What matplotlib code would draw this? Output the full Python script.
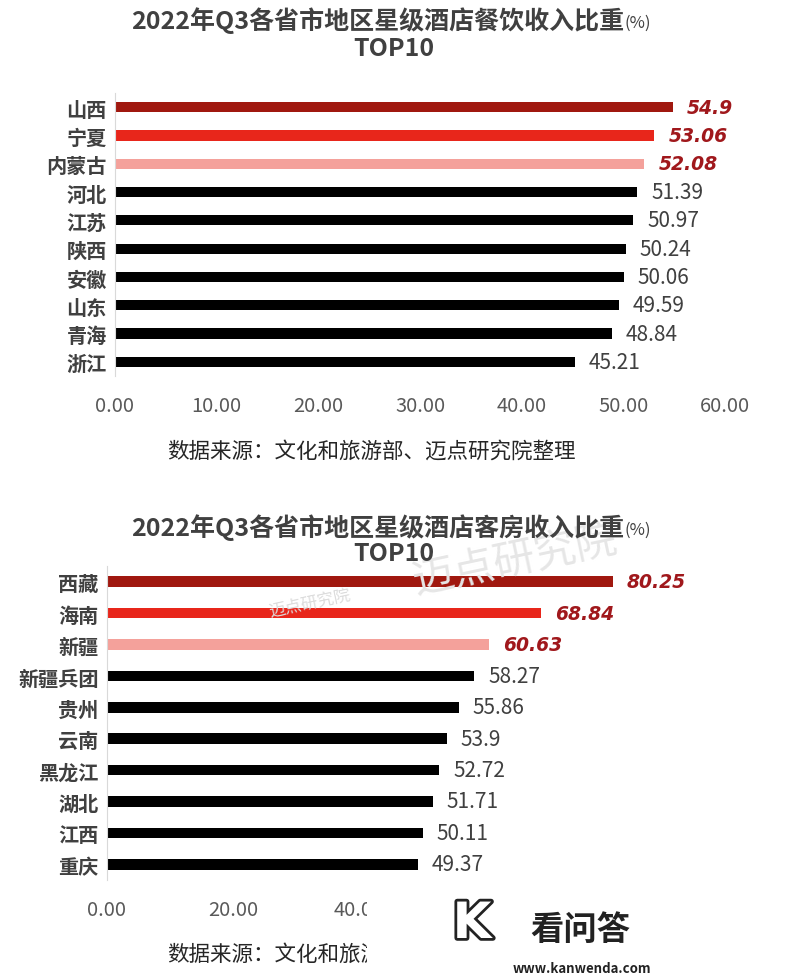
import matplotlib
matplotlib.use("Agg")
import matplotlib.pyplot as plt
import matplotlib.patheffects as pe

plt.rcParams['font.family'] = ['Noto Sans CJK SC', 'DejaVu Sans']

# data
food_names = ["山西", "宁夏", "内蒙古", "河北", "江苏", "陕西", "安徽", "山东", "青海", "浙江"]
food_values = [54.9, 53.06, 52.08, 51.39, 50.97, 50.24, 50.06, 49.59, 48.84, 45.21]
food_labels = ["54.9", "53.06", "52.08", "51.39", "50.97", "50.24", "50.06", "49.59", "48.84", "45.21"]
food_ticks = ["0.00", "10.00", "20.00", "30.00", "40.00", "50.00", "60.00"]

room_names = ["西藏", "海南", "新疆", "新疆兵团", "贵州", "云南", "黑龙江", "湖北", "江西", "重庆"]
room_values = [80.25, 68.84, 60.63, 58.27, 55.86, 53.9, 52.72, 51.71, 50.11, 49.37]
room_labels = ["80.25", "68.84", "60.63", "58.27", "55.86", "53.9", "52.72", "51.71", "50.11", "49.37"]
# labels past 40 are hidden under the logo box in the picture
room_ticks = ["0.00", "20.00", "40.00", "", "", ""]

source_full = "数据来源：文化和旅游部、迈点研究院整理"
source_cut = "数据来源：文化和旅游"  # rest is under the logo box

bar_colors = ["#a0180f", "#e8261b", "#f4a19b"] + ["#000000"] * 7
W, H = 800, 978
fig = plt.figure(figsize=(W / 100, H / 100), dpi=100)


def draw(rect, names, values, labels, ticks, xmax, step, height):
    ax = fig.add_axes(rect)
    y = list(range(len(names)))
    ax.barh(y, values, height=height, color=bar_colors)
    ax.set_ylim(len(names) - 0.5, -0.5)
    ax.set_xlim(0, xmax)
    ax.set_xticks(list(range(0, xmax + 1, step)))
    ax.set_xticklabels(ticks, fontsize=14.5, color="#595959")
    ax.set_yticks(y)
    ax.set_yticklabels(names, fontsize=14.5, fontweight="bold", color="#404040")
    ax.tick_params(length=0)
    ax.tick_params(axis="x", pad=14)
    ax.tick_params(axis="y", pad=6)
    for s in ["top", "right", "bottom"]:
        ax.spines[s].set_visible(False)
    ax.spines["left"].set_color("#d9d9d9")
    for i, (v, lab) in enumerate(zip(values, labels)):
        if i < 3:
            ax.annotate(lab, (v, i), xytext=(10, 0), textcoords="offset points",
                        va="center", ha="left", fontsize=13.5, fontweight="bold",
                        style="oblique", family="DejaVu Sans", color="#a0181c")
        else:
            ax.annotate(lab, (v, i), xytext=(10, 0), textcoords="offset points",
                        va="center", ha="left", fontsize=15, color="#404040")
    return ax


def title(y1, y2, main):
    fig.text(624 / W, 1 - y1 / H, main, ha="right", va="center",
             fontsize=18, fontweight="bold", color="#404040")
    fig.text(625 / W, 1 - (y1 + 2) / H, "(%)", ha="left", va="center",
             fontsize=12, color="#404040")
    fig.text(394 / W, 1 - y2 / H, "TOP10", ha="center", va="center",
             fontsize=18, fontweight="bold", color="#404040")


def source(y, s):
    fig.text(167 / W, 1 - y / H, s, ha="left", va="center",
             fontsize=15.5, color="#262626")


# top chart
title(21, 49, "2022年Q3各省市地区星级酒店餐饮收入比重")
draw([115 / W, 1 - 377 / H, 610 / W, 283 / H], food_names, food_values, food_labels,
     food_ticks, 60, 10, 0.36)
source(452, source_full)

# bottom chart watermark (behind)
fig.text(515 / W, 1 - 562 / H, "迈点研究院", ha="center", va="center", fontsize=30,
         color="#e6e6e6", rotation=12, zorder=0)
fig.text(310 / W, 1 - 604 / H, "迈点研究院", ha="center", va="center", fontsize=12,
         color="#dcdcdc", rotation=12, zorder=0)

title(528, 554, "2022年Q3各省市地区星级酒店客房收入比重")
ax2 = draw([107 / W, 1 - 881 / H, 630 / W, 314 / H], room_names, room_values, room_labels,
           room_ticks, 100, 20, 0.34)
ax2.patch.set_alpha(0)
source(955, source_cut)

# kanwenda logo box in the bottom right corner
fig.patches.append(plt.Rectangle((367 / W, 0), 1 - 367 / W, 90 / H, transform=fig.transFigure,
                                 facecolor="white", edgecolor="none", zorder=5))
fig.text(472 / W, 1 - 925 / H, "K", ha="center", va="center", fontsize=36, fontweight="bold",
         color="white", zorder=6, family="DejaVu Sans",
         path_effects=[pe.withStroke(linewidth=4, foreground="#222222")])
fig.text(580 / W, 1 - 930 / H, "看问答", ha="center", va="center", fontsize=24,
         fontweight="bold", color="#222222", zorder=6)
fig.text(582 / W, 1 - 969 / H, "www.kanwenda.com", ha="center", va="center", fontsize=9.5,
         fontweight="bold", color="#222222", zorder=6)

fig.savefig("out.png", dpi=100, facecolor="white")
